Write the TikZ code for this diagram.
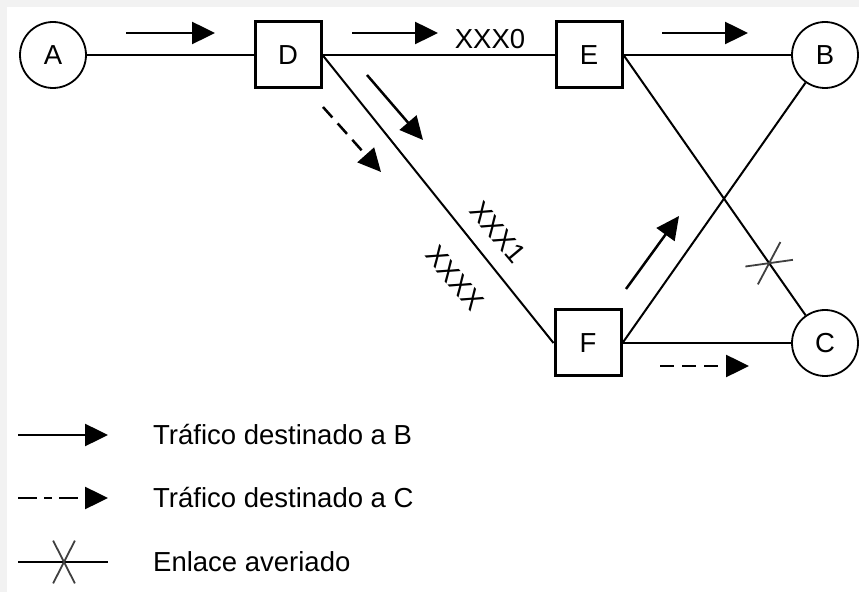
\documentclass[tikz,border=0pt]{standalone}
\usepackage{fontspec}
\setmainfont{Liberation Sans}
\usetikzlibrary{arrows.meta}
\definecolor{fondo}{RGB}{242,242,242}

\tikzset{
  nodo/.style={circle,draw,line width=1.8pt,minimum size=66pt,inner sep=0pt},
  caja/.style={rectangle,draw,line width=3pt,minimum size=66pt,inner sep=0pt},
  enlace/.style={line width=2pt},
  flujo/.style={line width=2.5pt,-{Triangle[length=23pt,width=22pt]}},
  flujoc/.style={flujo,dash pattern=on 14pt off 8pt},
  averia/.style={line width=1.8pt,black!75},
  aspa/.pic={\draw[averia] (117:24) -- (-63:24) (63:24) -- (-117:24);}
}

\begin{document}
\begin{tikzpicture}[x=1pt,y=1pt,font=\fontsize{27.5}{32}\selectfont]
\fill[fondo] (0,0) rectangle (859,592);
\fill[white] (7,0) rectangle (859,585);
\useasboundingbox (0,0) rectangle (859,592);
% routers and hosts
\node[nodo] (A) at (53,537) {A};
\node[caja] (D) at (288,537) {D};
\node[caja] (E) at (589,537) {E};
\node[nodo] (B) at (825,537) {B};
\node[caja] (F) at (588,249) {F};
\node[nodo] (C) at (825,249) {C};
% links
\draw[enlace] (A) -- (D);
\draw[enlace] (D) -- (E);
\draw[enlace] (E) -- (B);
\draw[enlace] (D.east) -- (F.west);
\draw[enlace] (E.east) -- (C) coordinate[pos=0.8] (rotura);
\draw[enlace] (F.east) -- (B);
\draw[enlace] (F) -- (C);
\pic[rotate=-55] at (rotura) {aspa};
% labels
\node (l0) at (490,553) {XXX0};
\node[rotate=-50] (l1) at (498,360) {XXX1};
\node[rotate=-50] (lx) at (455,314) {XXXX};
% traffic
\draw[flujo] (126,559) -- (215,559);
\draw[flujo] (352,559) -- (438,559);
\draw[flujo] (662,559) -- (748,559);
\draw[flujo] (367,517) -- (423,452);
\draw[flujoc] (323,485) -- (381,420);
\draw[flujo] (626,303) -- (679,376);
\draw[flujoc] (660,226) -- (749,226);
% legend
\draw[flujo] (18,157) -- (108,157);
\draw[flujo,dash pattern=on 19pt off 7pt on 8pt off 7pt] (18,94) -- (108,94);
\draw[enlace] (18,30) -- (108,30);
\pic at (64,30) {aspa};
\foreach \y/\txt in {157/Tráfico destinado a B,94/Tráfico destinado a C,30/Enlace averiado}
\node[anchor=west,inner sep=0pt] (ley\y) at (153,\y) {\txt};
\end{tikzpicture}
\end{document}
